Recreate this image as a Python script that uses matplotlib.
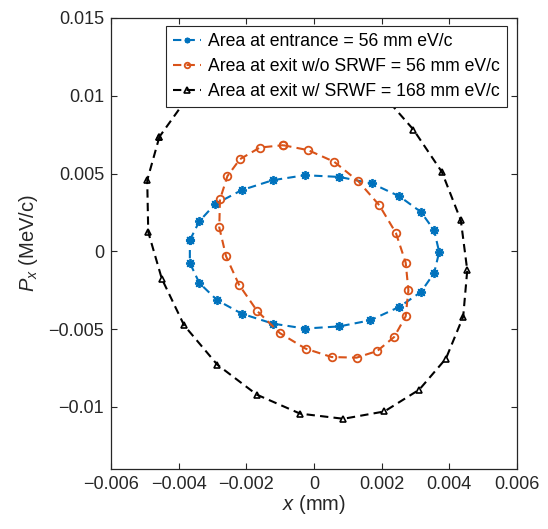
import numpy as np
import matplotlib
matplotlib.use("Agg")
import matplotlib.pyplot as plt
from matplotlib.ticker import FixedLocator, FuncFormatter

plt.rcParams['font.family'] = 'Liberation Sans'
plt.rcParams['mathtext.fontset'] = 'custom'
plt.rcParams['mathtext.it'] = 'Liberation Sans:italic'
plt.rcParams['mathtext.rm'] = 'Liberation Sans'

# phase space ellipses, values in units of 1e-3
x_in = np.array([-3.67, -3.39, -2.93, -2.14, -1.22, -0.27, 0.75, 1.71, 2.52, 3.16, 3.55, 3.70,
                 3.55, 3.16, 2.52, 1.66, 0.75, -0.27, -1.22, -2.14, -2.86, -3.39, -3.67])
p_in = np.array([0.71, 1.93, 3.02, 3.93, 4.57, 4.89, 4.78, 4.36, 3.54, 2.53, 1.35, -0.05,
                 -1.40, -2.62, -3.58, -4.44, -4.83, -4.97, -4.65, -4.01, -3.15, -2.04, -0.75])

x_out = np.array([-0.91, -0.17, 0.60, 1.31, 1.93, 2.42, 2.71, 2.79, 2.71, 2.37, 1.87, 1.26,
                  0.52, -0.25, -1.01, -1.68, -2.22, -2.60, -2.80, -2.78, -2.56, -2.19, -1.60])
p_out = np.array([6.82, 6.50, 5.75, 4.50, 2.96, 1.18, -0.73, -2.51, -4.18, -5.51, -6.41, -6.84,
                  -6.80, -6.26, -5.26, -3.84, -2.14, -0.32, 1.53, 3.33, 4.83, 5.92, 6.67])

x_srwf = np.array([-4.57, -4.93, -4.90, -4.50, -3.84, -2.86, -1.69, -0.41, 0.87, 2.08, 3.11, 3.90,
                   4.41, 4.53, 4.34, 3.78, 2.94, 2.10, 0.90, -0.40, -1.70, -2.90, -3.80])
p_srwf = np.array([7.36, 4.57, 1.24, -1.76, -4.76, -7.29, -9.22, -10.44, -10.77, -10.30, -8.90, -6.90,
                   -4.20, -1.22, 1.99, 5.10, 7.82, 9.90, 10.60, 10.90, 10.70, 10.20, 9.70])

labels = ['Area at entrance = 56 mm eV/c',
          'Area at exit w/o SRWF = 56 mm eV/c',
          'Area at exit w/ SRWF = 168 mm eV/c']

xticks = [-0.006, -0.004, -0.002, 0, 0.002, 0.004, 0.006]
yticks = [-0.01, -0.005, 0, 0.005, 0.01, 0.015]


def closed(a):
    return np.append(a, a[0]) * 1e-3


fig = plt.figure(figsize=(5.48, 5.29), dpi=100)
ax = fig.add_axes([0.2026, 0.1134, 0.7408, 0.8526])

ax.plot(closed(x_in), closed(p_in), '--', color='#0072BD', lw=1.5, marker=(8, 2, 0),
        ms=6.5, mew=1.3, dashes=(4, 2.5), label=labels[0])
ax.plot(closed(x_out), closed(p_out), '--', color='#D95319', lw=1.5, marker='o',
        ms=5.5, mfc='none', mew=1.3, dashes=(4, 2.5), label=labels[1])
ax.plot(closed(x_srwf), closed(p_srwf), '--', color='black', lw=1.5, marker='^',
        ms=5, mfc='none', mew=1.2, dashes=(4, 2.5), label=labels[2])

ax.set_xlim(-0.006, 0.006)
ax.set_ylim(-0.014, 0.015)


def fmt(v, pos):
    s = '{:g}'.format(round(v, 6))
    return s.replace('-', '\u2212')


ax.xaxis.set_major_locator(FixedLocator(xticks))
ax.yaxis.set_major_locator(FixedLocator(yticks))
ax.xaxis.set_major_formatter(FuncFormatter(fmt))
ax.yaxis.set_major_formatter(FuncFormatter(fmt))
ax.tick_params(direction='in', top=True, right=True, length=4, width=0.8,
               labelsize=13, colors='#262626', pad=5)
for s in ax.spines.values():
    s.set_linewidth(0.9)
    s.set_color('#262626')

ax.set_xlabel('$x$ (mm)', fontsize=14.5, color='#262626', labelpad=0)
ax.set_ylabel('$P_x$ (MeV/c)', fontsize=14.5, color='#262626', labelpad=6)

leg = ax.legend(loc='upper right', bbox_to_anchor=(0.975, 0.982), borderaxespad=0,
                fontsize=12.7, fancybox=False, framealpha=1, edgecolor='#262626',
                handlelength=1.6, handletextpad=0.4, borderpad=0.4, labelspacing=0.45)
leg.get_frame().set_linewidth(0.8)
for h in leg.get_lines():
    h.set_markersize(4)

fig.savefig('out.png', dpi=100)
